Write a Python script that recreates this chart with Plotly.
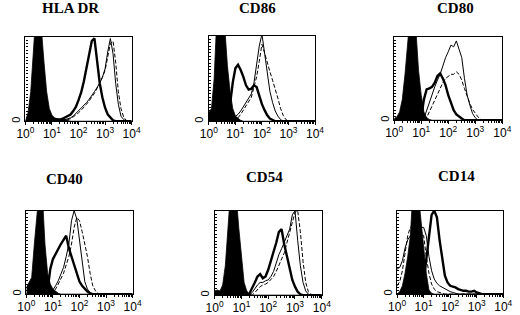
import plotly.graph_objects as go

# Fluorescence channel positions (log10 decades), shared by all histograms
log_channel = [0.0, 0.1, 0.2, 0.3, 0.4, 0.5, 0.6, 0.7, 0.8, 0.9,
               1.0, 1.1, 1.2, 1.3, 1.4, 1.5, 1.6, 1.7, 1.8, 1.9,
               2.0, 2.1, 2.2, 2.3, 2.4, 2.5, 2.6, 2.7, 2.8, 2.9,
               3.0, 3.1, 3.2, 3.3, 3.4, 3.5, 3.6, 3.7, 3.8, 3.9, 4.0]

markers = ["HLA DR", "CD86", "CD80", "CD40", "CD54", "CD14"]

# isotype control (filled black)
isotype = {
    "HLA DR": [0, 10, 35, 90, 130, 130, 110, 70, 35, 15, 7, 4, 3, 2, 2, 2, 1, 0, 0, 0,
               0, 0, 0, 0, 0, 0, 0, 0, 0, 0, 0, 0, 0, 0, 0, 0, 0, 0, 0, 0, 0],
    "CD86": [10, 15, 50, 120, 130, 130, 110, 65, 35, 15, 6, 3, 1, 0, 0, 0, 0, 0, 0, 0,
             0, 0, 0, 0, 0, 0, 0, 0, 0, 0, 0, 0, 0, 0, 0, 0, 0, 0, 0, 0, 0],
    "CD80": [2, 4, 10, 25, 55, 95, 130, 130, 110, 60, 30, 10, 3, 1, 0, 0, 0, 0, 0, 0,
             0, 0, 0, 0, 0, 0, 0, 0, 0, 0, 0, 0, 0, 0, 0, 0, 0, 0, 0, 0, 0],
    "CD40": [8, 15, 20, 60, 125, 130, 120, 60, 25, 12, 6, 3, 1, 0, 0, 0, 0, 0, 0, 0,
             0, 0, 0, 0, 0, 0, 0, 0, 0, 0, 0, 0, 0, 0, 0, 0, 0, 0, 0, 0, 0],
    "CD54": [5, 6, 5, 12, 35, 80, 125, 130, 120, 80, 45, 15, 5, 1, 0, 0, 0, 0, 0, 0,
             0, 0, 0, 0, 0, 0, 0, 0, 0, 0, 0, 0, 0, 0, 0, 0, 0, 0, 0, 0, 0],
    "CD14": [0, 3, 10, 25, 45, 70, 125, 130, 120, 90, 55, 25, 5, 1, 0, 0, 0, 0, 0, 0,
             0, 0, 0, 0, 0, 0, 0, 0, 0, 0, 0, 0, 0, 0, 0, 0, 0, 0, 0, 0, 0],
}

# thick solid line
thick = {
    "HLA DR": [0, 0, 0, 0, 0, 0, 0, 0, 0, 0, 0, 0, 2, 2, 3, 5, 6, 8, 12, 17,
               25, 34, 47, 62, 78, 95, 98, 70, 45, 28, 16, 8, 4, 1, 0, 0, 0, 0, 0, 0, 0],
    "CD86": [0, 0, 0, 0, 0, 0, 0, 5, 20, 45, 62, 66, 60, 52, 42, 37, 38, 42, 40, 30,
             20, 13, 7, 3, 1, 0, 0, 0, 0, 0, 0, 0, 0, 0, 0, 0, 0, 0, 0, 0, 0],
    "CD80": [0, 0, 0, 0, 0, 0, 0, 0, 0, 0, 3, 25, 37, 38, 40, 45, 53, 56, 50, 42,
             30, 20, 12, 7, 4, 2, 0, 0, 0, 0, 0, 0, 0, 0, 0, 0, 0, 0, 0, 0, 0],
    "CD40": [0, 0, 0, 0, 0, 0, 0, 0, 5, 30, 42, 48, 55, 60, 65, 70, 55, 45, 35, 25,
             15, 10, 6, 3, 1, 0, 0, 0, 0, 0, 0, 0, 0, 0, 0, 0, 0, 0, 0, 0, 0],
    "CD54": [0, 0, 0, 0, 0, 0, 0, 0, 0, 0, 0, 0, 0, 2, 8, 15, 22, 25, 20, 22,
             30, 40, 50, 62, 75, 78, 60, 45, 30, 18, 10, 4, 1, 0, 0, 0, 0, 0, 0, 0, 0],
    "CD14": [0, 0, 0, 0, 0, 0, 0, 0, 0, 0, 15, 40, 70, 95, 100, 92, 65, 40, 22, 14,
             10, 9, 8, 6, 5, 4, 4, 3, 3, 4, 2, 1, 0, 0, 0, 0, 0, 0, 0, 0, 0],
}

# thin solid line
thin = {
    "HLA DR": [0, 0, 0, 0, 0, 0, 0, 0, 0, 0, 0, 0, 0, 0, 1, 2, 3, 4, 6, 9,
               12, 15, 18, 22, 26, 30, 35, 40, 45, 52, 62, 82, 98, 80, 45, 20, 6, 2, 0, 0, 0],
    "CD86": [0, 0, 0, 0, 0, 0, 0, 0, 1, 3, 5, 8, 12, 17, 22, 27, 32, 45, 65, 88,
             102, 80, 55, 35, 22, 12, 6, 2, 0, 0, 0, 0, 0, 0, 0, 0, 0, 0, 0, 0, 0],
    "CD80": [0, 0, 0, 0, 0, 0, 0, 0, 0, 0, 0, 2, 12, 22, 32, 40, 48, 55, 65, 75,
             82, 90, 88, 95, 85, 75, 50, 30, 18, 8, 3, 0, 0, 0, 0, 0, 0, 0, 0, 0, 0],
    "CD40": [0, 0, 0, 0, 0, 0, 0, 0, 0, 2, 5, 10, 16, 24, 32, 45, 60, 88, 100, 90,
             65, 35, 15, 6, 2, 0, 0, 0, 0, 0, 0, 0, 0, 0, 0, 0, 0, 0, 0, 0, 0],
    "CD54": [0, 0, 0, 0, 0, 0, 0, 0, 0, 0, 0, 0, 0, 0, 3, 8, 12, 15, 15, 17,
             18, 22, 28, 38, 48, 55, 62, 70, 78, 95, 100, 65, 35, 15, 5, 1, 0, 0, 0, 0, 0],
    "CD14": [30, 32, 40, 55, 65, 70, 72, 75, 78, 80, 80, 70, 45, 28, 18, 13, 10, 8, 6, 5,
             3, 2, 1, 0, 0, 0, 0, 0, 0, 0, 0, 0, 0, 0, 0, 0, 0, 0, 0, 0, 0],
}

# dashed line
dashed = {
    "HLA DR": [0, 0, 0, 0, 0, 0, 0, 0, 0, 0, 0, 0, 0, 0, 0, 0, 2, 3, 5, 7,
               10, 13, 16, 20, 24, 28, 33, 39, 45, 52, 60, 78, 92, 95, 70, 35, 15, 5, 1, 0, 0],
    "CD86": [0, 0, 0, 0, 0, 0, 0, 0, 0, 0, 2, 4, 8, 13, 18, 23, 28, 40, 52, 70,
             90, 80, 68, 58, 48, 38, 27, 15, 7, 2, 0, 0, 0, 0, 0, 0, 0, 0, 0, 0, 0],
    "CD80": [0, 0, 0, 0, 0, 0, 0, 0, 0, 0, 0, 0, 3, 10, 18, 25, 33, 40, 45, 50,
             53, 55, 55, 58, 55, 48, 38, 28, 20, 13, 8, 4, 1, 0, 0, 0, 0, 0, 0, 0, 0],
    "CD40": [0, 0, 0, 0, 0, 0, 0, 0, 0, 0, 2, 6, 12, 18, 25, 35, 45, 60, 80, 92,
             88, 75, 60, 45, 25, 10, 4, 1, 0, 0, 0, 0, 0, 0, 0, 0, 0, 0, 0, 0, 0],
    "CD54": [0, 0, 0, 0, 0, 0, 0, 0, 0, 0, 0, 0, 0, 0, 0, 3, 7, 10, 12, 13,
             15, 18, 22, 28, 35, 42, 50, 62, 75, 85, 98, 100, 75, 40, 15, 4, 1, 0, 0, 0, 0],
    "CD14": [10, 15, 28, 50, 70, 80, 82, 82, 80, 75, 70, 45, 25, 12, 6, 3, 2, 1, 0, 0,
             0, 0, 0, 0, 0, 0, 0, 0, 0, 0, 0, 0, 0, 0, 0, 0, 0, 0, 0, 0, 0],
}

decade_ticks = [1, 10, 100, 1000, 10000]
decade_labels = ["10<sup>0</sup>", "10<sup>1</sup>", "10<sup>2</sup>",
                 "10<sup>3</sup>", "10<sup>4</sup>"]
minor_ticks = [m * d for d in [1, 10, 100, 1000] for m in range(2, 10)]

W, H = 520, 315
# panel frames in pixels: (left, right, top, bottom), title centre (x, y)
frames = [(17, 127, 37, 122), (207, 317, 36, 122), (399, 511, 37, 121),
          (18, 128, 212, 296), (213, 324, 212, 297), (402, 512, 212, 296)]
title_pos = [(64, 8), (257, 8), (462, 8), (57, 180), (265, 178), (464, 177)]

fig = go.Figure()
layout = dict(width=W, height=H, margin=dict(l=0, r=0, t=0, b=0),
              paper_bgcolor="white", plot_bgcolor="white", showlegend=False)
annotations = []

xvals = [10 ** v for v in log_channel]

for i, name in enumerate(markers):
    n = "" if i == 0 else str(i + 1)
    xa, ya = "x" + n, "y" + n
    L, R, T, B = frames[i]
    fig.add_trace(go.Scatter(x=xvals, y=isotype[name], mode="lines", fill="tozeroy",
                             fillcolor="black", line=dict(color="black", width=0.8),
                             xaxis=xa, yaxis=ya))
    fig.add_trace(go.Scatter(x=xvals, y=thin[name], mode="lines",
                             line=dict(color="black", width=1),
                             xaxis=xa, yaxis=ya))
    fig.add_trace(go.Scatter(x=xvals, y=dashed[name], mode="lines",
                             line=dict(color="black", width=1, dash="4px,2px"),
                             xaxis=xa, yaxis=ya))
    fig.add_trace(go.Scatter(x=xvals, y=thick[name], mode="lines",
                             line=dict(color="black", width=2.4),
                             xaxis=xa, yaxis=ya))
    layout["xaxis" + n] = dict(
        type="log", range=[0, 4], domain=[L / W, R / W], anchor=ya,
        showline=True, mirror=True, linecolor="black", linewidth=1.2,
        showgrid=False, zeroline=False,
        tickvals=decade_ticks, ticktext=decade_labels,
        ticks="outside", ticklen=3, tickcolor="black", ticklabelstandoff=-2,
        minor=dict(tickvals=minor_ticks, ticks="outside", ticklen=2, tickcolor="black"),
        tickfont=dict(family="Liberation Sans, Arial, sans-serif", size=12, color="black"),
    )
    layout["yaxis" + n] = dict(
        range=[0, 100], domain=[1 - B / H, 1 - T / H], anchor=xa,
        showline=True, mirror=True, linecolor="black", linewidth=1.2,
        showgrid=False, zeroline=False,
        tickvals=[0], ticktext=["0"], tickangle=-90,
        ticks="inside", ticklen=3, tickcolor="black",
        minor=dict(dtick=4, ticks="inside", ticklen=2, tickcolor="black"),
        tickfont=dict(family="Liberation Sans, Arial, sans-serif", size=11, color="black"),
    )
    tx, ty = title_pos[i]
    annotations.append(dict(text="<b>" + name + "</b>", x=tx / W, y=1 - ty / H,
                            xref="paper", yref="paper", showarrow=False,
                            xanchor="center", yanchor="middle",
                            font=dict(family="Liberation Serif, Times New Roman, serif",
                                      size=15, color="black")))

layout["annotations"] = annotations
fig.update_layout(**layout)
fig.write_html("out.html", config={"displayModeBar": False},
               post_script="document.body.style.margin='0';")
